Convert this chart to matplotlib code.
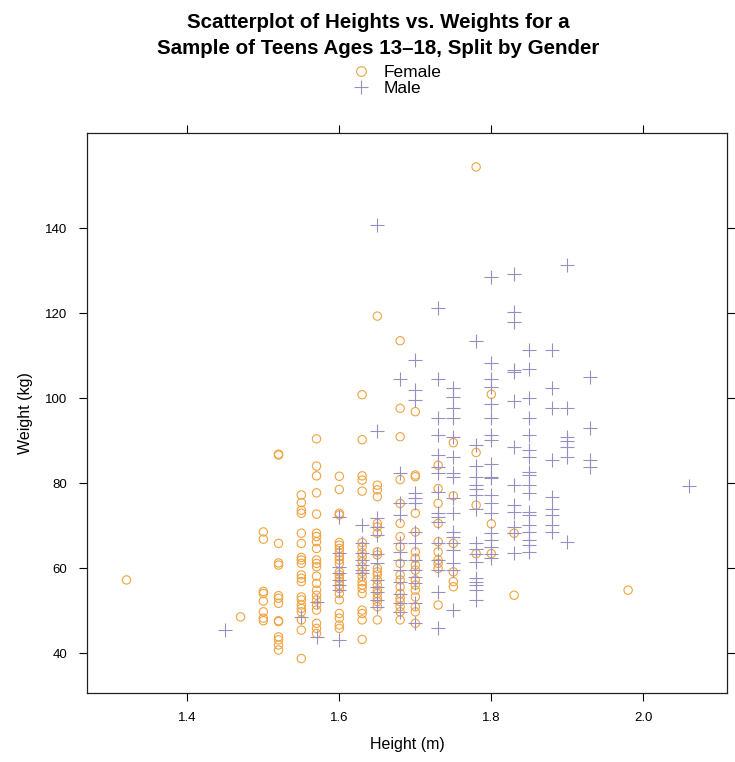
import matplotlib
matplotlib.use('Agg')
import matplotlib.pyplot as plt
from matplotlib.lines import Line2D

female_heights = [1.32, 1.47, 1.50, 1.52, 1.55, 1.57, 1.60, 1.63, 1.65, 1.68,
                  1.70, 1.73, 1.75, 1.78, 1.80, 1.83, 1.98]
female_weights = [
    [57.2],
    [48.5],
    [68.5, 66.8, 54.5, 54.0, 52.2, 49.7, 48.2, 47.6],
    [86.6, 86.8, 65.8, 61.2, 60.7, 53.5, 52.9, 51.7, 47.6, 47.4, 43.8, 43.1, 41.9, 40.7],
    [77.2, 75.4, 73.6, 72.9, 68.2, 65.8, 62.5, 61.9, 61.1, 58.4, 57.6, 56.8, 53.2, 52.5,
     51.3, 50.5, 49.7, 47.8, 45.4, 38.7],
    [90.4, 84.0, 81.7, 77.7, 72.7, 68.2, 67.4, 66.2, 64.6, 61.9, 61.1, 60.3, 58.1, 56.4,
     54.8, 53.6, 52.5, 51.3, 50.1, 47.0, 45.8, 44.6],
    [81.6, 78.5, 72.9, 72.5, 66.0, 65.4, 64.6, 63.6, 62.7, 61.9, 61.1, 59.1, 58.4, 57.6,
     56.8, 56.0, 55.2, 54.0, 52.5, 49.3, 48.2, 46.6, 45.8],
    [100.8, 90.2, 81.7, 80.7, 78.1, 66.0, 65.0, 63.6, 62.7, 61.5, 60.3, 59.1, 58.0, 56.8,
     56.0, 55.2, 54.0, 50.1, 49.3, 47.8, 43.2],
    [119.3, 79.5, 78.4, 76.8, 70.5, 69.7, 68.2, 63.8, 63.1, 59.9, 59.1, 58.4, 57.2, 56.0,
     54.8, 54.0, 52.9, 52.1, 50.9, 47.8],
    [113.5, 97.6, 90.9, 80.8, 75.2, 70.5, 67.4, 65.0, 61.1, 58.4, 57.2, 55.6, 54.0, 52.9,
     52.1, 50.9, 49.7, 47.8],
    [96.8, 81.9, 81.5, 72.9, 68.5, 63.8, 62.3, 60.7, 59.5, 57.2, 56.0, 54.8, 53.2, 50.9,
     49.7, 47.0],
    [84.2, 78.7, 75.2, 70.5, 66.2, 63.8, 61.9, 61.1, 59.9, 51.3],
    [89.5, 77.0, 65.8, 59.1, 56.8, 55.6],
    [154.4, 87.2, 74.8, 63.4],
    [100.9, 70.4, 63.4],
    [68.2, 53.6],
    [54.8],
]

male_heights = [1.45, 1.55, 1.57, 1.60, 1.63, 1.65, 1.68, 1.70, 1.73, 1.75, 1.78,
                1.80, 1.83, 1.85, 1.88, 1.90, 1.93, 2.06]
male_weights = [
    [45.4],
    [48.5],
    [52.1, 43.8],
    [72.1, 63.6, 60.3, 58.8, 57.2, 56.0, 54.8, 43.1],
    [70.1, 66.0, 63.6, 61.9, 60.7, 59.5, 58.8],
    [140.7, 92.3, 71.7, 69.7, 67.8, 63.4, 61.1, 57.2, 55.6, 54.4, 52.5, 50.9],
    [104.4, 82.3, 75.2, 72.5, 65.8, 63.8, 61.9, 59.5, 56.8, 54.0, 51.7, 49.7],
    [108.9, 101.9, 99.5, 77.6, 76.4, 75.2, 68.5, 65.8, 61.9, 59.5, 58.0, 56.4, 51.7, 47.0],
    [121.3, 104.4, 95.4, 91.3, 86.6, 83.8, 82.3, 78.0, 72.9, 72.1, 70.9, 65.8, 61.9, 59.5,
     54.4, 45.8],
    [102.3, 100.3, 97.6, 95.2, 90.9, 86.2, 82.3, 81.5, 76.4, 72.9, 68.5, 67.4, 65.8, 64.2,
     61.1, 59.5, 50.1],
    [113.5, 88.9, 84.0, 81.5, 79.5, 78.7, 77.2, 74.0, 65.8, 64.6, 63.4, 61.5, 57.6, 56.8,
     56.0, 54.8, 52.5],
    [128.5, 108.2, 104.6, 102.7, 98.5, 95.2, 91.3, 90.1, 84.6, 81.5, 81.1, 77.2, 75.2, 72.9,
     68.2, 66.6, 65.0, 63.4, 62.3],
    [129.3, 120.3, 118.0, 106.6, 106.2, 99.4, 88.6, 79.5, 74.8, 73.3, 69.7, 68.2, 63.6],
    [111.3, 106.8, 100.1, 95.4, 91.3, 87.8, 86.2, 82.7, 81.9, 79.5, 77.6, 73.3, 72.5, 70.1,
     68.5, 66.6, 65.4, 63.8],
    [111.3, 102.3, 97.6, 85.4, 76.8, 74.0, 72.5, 70.1, 68.5],
    [131.3, 97.6, 90.9, 89.9, 88.6, 86.2, 66.2],
    [104.9, 93.0, 85.4, 83.8],
    [79.3],
]

x_ticks = [1.4, 1.6, 1.8, 2.0]
y_ticks = [40, 60, 80, 100, 120, 140]

female_color = '#F1A340'
male_color = '#998EC3'


def flatten(heights, weights):
    xs, ys = [], []
    for h, ws in zip(heights, weights):
        xs += [h] * len(ws)
        ys += ws
    return xs, ys


fx, fy = flatten(female_heights, female_weights)
mx, my = flatten(male_heights, male_weights)

plt.rcParams['font.family'] = ['Liberation Sans', 'DejaVu Sans']

fig = plt.figure(figsize=(7.35, 7.62), dpi=100)
ax = fig.add_axes([0.1184, 0.0906, 0.8706, 0.7349])

ax.scatter(fx, fy, s=36, facecolors='none', edgecolors=female_color, linewidths=0.8)
ax.scatter(mx, my, s=90, marker='+', color=male_color, linewidths=0.8)

ax.set_xlim(1.268, 2.110)
ax.set_ylim(30.6, 162.4)
ax.set_xticks(x_ticks)
ax.set_xticklabels([f'{t:.1f}' for t in x_ticks])
ax.set_yticks(y_ticks)
ax.tick_params(direction='out', length=6, width=0.8, labelsize=9.5,
               top=True, right=True, pad=8)
for sp in ax.spines.values():
    sp.set_linewidth(0.9)
    sp.set_color('#222222')

ax.set_xlabel('Height (m)', fontsize=11.5, labelpad=9)
ax.set_ylabel('Weight (kg)', fontsize=11.5, labelpad=9)

fig.text(0.515, 0.983, 'Scatterplot of Heights vs. Weights for a\n'
         'Sample of Teens Ages 13\u201318, Split by Gender',
         ha='center', va='top', fontsize=14.8, fontweight='bold', linespacing=1.5)

handles = [
    Line2D([], [], linestyle='none', marker='o', markersize=7, markerfacecolor='none',
           markeredgecolor=female_color, markeredgewidth=0.8),
    Line2D([], [], linestyle='none', marker='+', markersize=10, color=male_color,
           markeredgewidth=0.8),
]
fig.legend(handles, ['Female', 'Male'], loc='upper center',
           bbox_to_anchor=(0.537, 0.926), frameon=False, fontsize=12.5,
           handletextpad=0.55, labelspacing=0.05, borderpad=0, handlelength=1.5)

fig.savefig('out.png', dpi=100)
